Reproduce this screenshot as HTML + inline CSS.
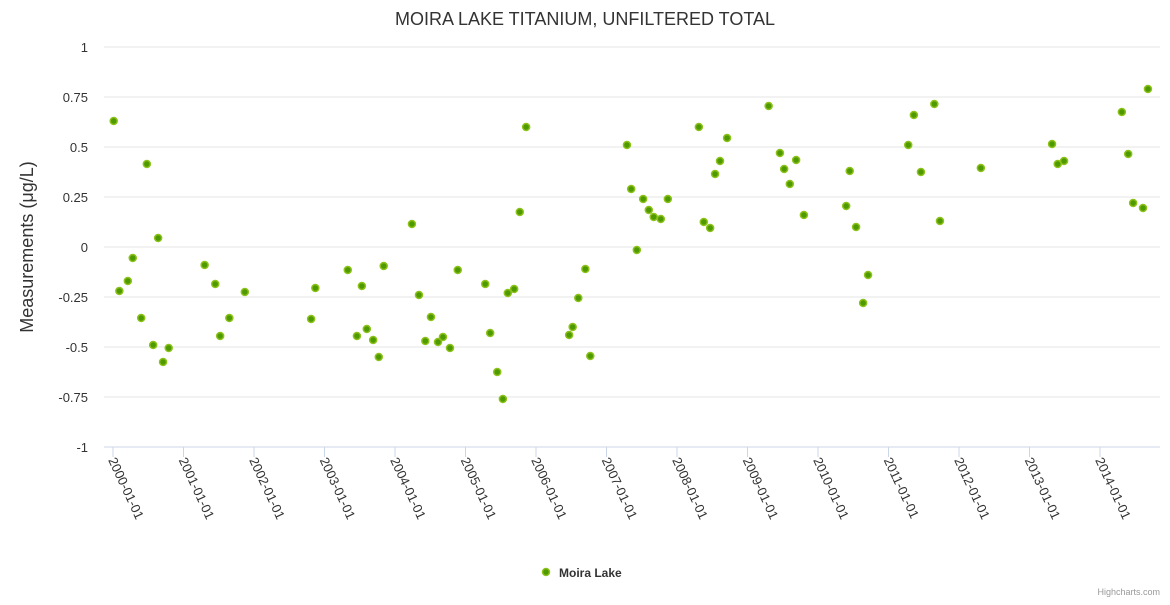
<!DOCTYPE html>
<html><head><meta charset="utf-8"><style>
body{margin:0;background:#fff;font-family:"Liberation Sans",sans-serif}
</style></head><body>
<svg id="chart" width="1170" height="600" xmlns="http://www.w3.org/2000/svg" font-family="Liberation Sans, sans-serif">
<text x="585" y="25" text-anchor="middle" font-size="18" fill="#333">MOIRA LAKE TITANIUM, UNFILTERED TOTAL</text>
<text transform="translate(33,247) rotate(-90)" text-anchor="middle" font-size="18" fill="#333">Measurements (μg/L)</text>
<g id="grid"></g><g id="xaxis"></g><g id="points"></g>
<g>
<circle cx="546" cy="572" r="3.5" fill="#4f9a00" stroke="#8cc21a" stroke-width="1.5"/>
<text x="559" y="577" font-size="12" font-weight="bold" fill="#333">Moira Lake</text></g>
<text x="1160" y="595" text-anchor="end" font-size="9" fill="#999">Highcharts.com</text>
</svg>
<script>
const years=[2000.01,2000.09,2000.21,2000.28,2000.40,2000.48,2000.57,2000.64,2000.71,2000.79,2001.30,2001.45,2001.52,2001.65,2001.87,2002.81,2002.87,2003.33,2003.46,2003.53,2003.60,2003.69,2003.77,2003.84,2004.24,2004.34,2004.43,2004.51,2004.61,2004.68,2004.78,2004.89,2005.28,2005.35,2005.45,2005.53,2005.60,2005.69,2005.77,2005.86,2006.47,2006.52,2006.60,2006.70,2006.77,2007.29,2007.35,2007.43,2007.52,2007.60,2007.67,2007.77,2007.87,2008.31,2008.38,2008.47,2008.54,2008.61,2008.71,2009.30,2009.46,2009.52,2009.60,2009.69,2009.80,2010.40,2010.45,2010.54,2010.64,2010.71,2011.28,2011.36,2011.46,2011.65,2011.73,2012.31,2013.32,2013.40,2013.49,2014.31,2014.40,2014.47,2014.61,2014.68];
const values=[0.63,-0.22,-0.17,-0.055,-0.355,0.415,-0.49,0.045,-0.575,-0.505,-0.09,-0.185,-0.445,-0.355,-0.225,-0.36,-0.205,-0.115,-0.445,-0.195,-0.41,-0.465,-0.55,-0.095,0.115,-0.24,-0.47,-0.35,-0.475,-0.45,-0.505,-0.115,-0.185,-0.43,-0.625,-0.76,-0.23,-0.21,0.175,0.6,-0.44,-0.4,-0.255,-0.11,-0.545,0.51,0.29,-0.015,0.24,0.185,0.15,0.14,0.24,0.6,0.125,0.095,0.365,0.43,0.545,0.705,0.47,0.39,0.315,0.435,0.16,0.205,0.38,0.1,-0.28,-0.14,0.51,0.66,0.375,0.715,0.13,0.395,0.515,0.415,0.43,0.675,0.465,0.22,0.195,0.79];
const yTicks=[1,0.75,0.5,0.25,0,-0.25,-0.5,-0.75,-1];
const yTickLabels=["1","0.75","0.5","0.25","0","-0.25","-0.5","-0.75","-1"];
const xTicks=[2000,2001,2002,2003,2004,2005,2006,2007,2008,2009,2010,2011,2012,2013,2014];
const NS="http://www.w3.org/2000/svg";
const X=v=>113+(v-2000)*70.5, Y=v=>247-v*200;
const grid=document.getElementById('grid');
function mk(tag,attrs,parent){const e=document.createElementNS(NS,tag);for(const k in attrs)e.setAttribute(k,attrs[k]);parent.appendChild(e);return e;}
yTicks.forEach((t,i)=>{
 const l=mk('line',{x1:104,x2:1160,y1:Y(t),y2:Y(t),stroke:t===-1?'#ccd6eb':'#e6e6e6'},grid);
 
 
 const tx=mk('text',{x:88,y:Y(t)+5,'text-anchor':'end','font-size':'13',fill:'#333'},grid);
 tx.textContent=yTickLabels[i];
 
 
});
const xa=document.getElementById('xaxis');
xTicks.forEach(t=>{
 const x=X(t);
 const tk=mk('line',{x1:x,x2:x,y1:447,y2:457,stroke:'#ccd6eb'},xa);
 
 
 const tx=mk('text',{transform:`translate(${x-5},${460}) rotate(65)`,'font-size':'13',fill:'#333'},xa);
 tx.textContent=t+'-01-01';
 
 
});
const pts=document.getElementById('points');
years.forEach((yr,i)=>{
 const c=mk('circle',{cx:X(yr),cy:Y(values[i]),r:3.5,fill:'#4f9a00',stroke:'#8cc21a','stroke-width':1.5},pts);
 
 
});
</script>
</body></html>
